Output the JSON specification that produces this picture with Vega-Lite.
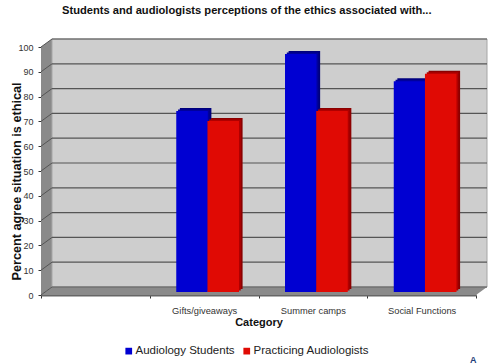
{
  "$schema": "https://vega.github.io/schema/vega-lite/v6.json",
  "width": 435,
  "height": 248,
  "padding": {"left": 41, "top": 47, "right": 18, "bottom": 69},
  "autosize": "none",
  "background": "white",
  "config": {"axisY": {"tickCount": 11, "labelOverlap": false}},
  "title": {"text": "Students and audiologists perceptions of the ethics associated with...", "font": "Liberation Sans", "fontSize": 11.15, "fontWeight": "bold", "color": "#111", "anchor": "start", "offset": 22, "dx": 52},
  "datasets": {
    "scores": [
      {"category": "Gifts/giveaways", "group": "Audiology Students", "percent": 73},
      {"category": "Gifts/giveaways", "group": "Practicing Audiologists", "percent": 69},
      {"category": "Summer camps", "group": "Audiology Students", "percent": 96},
      {"category": "Summer camps", "group": "Practicing Audiologists", "percent": 73},
      {"category": "Social Functions", "group": "Audiology Students", "percent": 85},
      {"category": "Social Functions", "group": "Practicing Audiologists", "percent": 88}
    ],
    "ticks": [{"v": 0}, {"v": 10}, {"v": 20}, {"v": 30}, {"v": 40}, {"v": 50}, {"v": 60}, {"v": 70}, {"v": 80}, {"v": 90}, {"v": 100}],
    "sideWall": [{"u": 0, "lo": 0, "hi": 100}, {"u": 0.101, "lo": 3.2, "hi": 103.2}],
    "floor": [{"u": 0, "lo": 0, "hi": 0}, {"u": 0.101, "lo": 0, "hi": 3.2}, {"u": 4, "lo": 0, "hi": 3.2}, {"u": 4.101, "lo": 3.2, "hi": 3.2}]
  },
  "resolve": {"scale": {"x": "independent"}},
  "layer": [
    {
      "data": {"name": "sideWall"},
      "mark": {"type": "area", "color": "#8a8a8a"},
      "encoding": {
        "x": {"field": "u", "type": "quantitative", "scale": {"domain": [0, 4]}, "axis": null},
        "y": {"field": "lo", "type": "quantitative", "scale": {"domain": [0, 100]}, "axis": {"values": [0, 10, 20, 30, 40, 50, 60, 70, 80, 90, 100], "labelOverlap": false, "title": "Percent agree situation is ethical", "titleFont": "Liberation Sans", "titleFontSize": 12.7, "titleFontWeight": "bold", "titleColor": "#111", "titleX": -18, "titleY": 134, "labelFont": "Liberation Sans", "labelFontSize": 9, "labelColor": "#333", "labelPadding": 5, "tickSize": 3, "tickColor": "#333", "domainColor": "#666", "grid": false}},
        "y2": {"field": "hi"}
      }
    },
    {
      "data": {"name": "floor"},
      "mark": {"type": "area", "color": "#8a8a8a"},
      "encoding": {
        "x": {"field": "u", "type": "quantitative", "scale": {"domain": [0, 4]}, "axis": null},
        "y": {"field": "lo", "type": "quantitative"},
        "y2": {"field": "hi"}
      }
    },
    {
      "data": {"values": [{"a": 0, "b": 4, "lo": 0, "hi": 100}]},
      "mark": {"type": "rect", "fill": "#cecece", "stroke": "#a6a6a6", "strokeWidth": 1, "xOffset": 11, "x2Offset": 11, "yOffset": -8, "y2Offset": -8},
      "encoding": {
        "x": {"field": "a", "type": "quantitative", "scale": {"domain": [0, 4]}, "axis": null},
        "x2": {"field": "b"},
        "y": {"field": "lo", "type": "quantitative"},
        "y2": {"field": "hi"}
      }
    },
    {
      "data": {"name": "ticks"},
      "transform": [{"calculate": "0", "as": "a"}, {"calculate": "4", "as": "b"}],
      "mark": {"type": "rule", "color": "#555555", "strokeWidth": 1.2, "xOffset": 11, "x2Offset": 11, "yOffset": -8},
      "encoding": {
        "x": {"field": "a", "type": "quantitative", "scale": {"domain": [0, 4]}, "axis": null},
        "x2": {"field": "b"},
        "y": {"field": "v", "type": "quantitative"}
      }
    },
    {
      "data": {"name": "ticks"},
      "transform": [{"calculate": "0", "as": "a"}],
      "mark": {"type": "rule", "color": "#555555", "strokeWidth": 1, "x2Offset": 11, "y2Offset": -8},
      "encoding": {
        "x": {"field": "a", "type": "quantitative", "scale": {"domain": [0, 4]}, "axis": null},
        "x2": {"field": "a"},
        "y": {"field": "v", "type": "quantitative"},
        "y2": {"field": "v"}
      }
    },
    {
      "data": {"values": [{"u": 3.975, "v": -27.4, "glyph": "A"}]},
      "mark": {"type": "text", "font": "Liberation Sans", "fontSize": 9, "fontWeight": "bold", "color": "#1f3f7a", "baseline": "alphabetic"},
      "encoding": {
        "x": {"field": "u", "type": "quantitative", "scale": {"domain": [0, 4]}, "axis": null},
        "y": {"field": "v", "type": "quantitative"},
        "text": {"field": "glyph"}
      }
    },
    {
      "data": {"name": "scores"},
      "transform": [{"filter": "datum.group === 'Audiology Students'"}],
      "mark": {"type": "bar", "color": "#00007c", "xOffset": -8.5, "yOffset": -6, "y2Offset": -6, "width": {"band": 0.29}},
      "encoding": {
        "x": {"field": "category", "type": "nominal", "scale": {"domain": [" ", "Gifts/giveaways", "Summer camps", "Social Functions"], "paddingInner": 0, "paddingOuter": 0}, "axis": null},
        "y": {"field": "percent", "type": "quantitative"},
        "y2": {"datum": 0}
      }
    },
    {
      "data": {"name": "scores"},
      "transform": [{"filter": "datum.group === 'Audiology Students'"}],
      "mark": {"type": "bar", "color": "#00009c", "xOffset": -10.3, "yOffset": -4.5, "y2Offset": -4.5, "width": {"band": 0.29}},
      "encoding": {
        "x": {"field": "category", "type": "nominal", "scale": {"domain": [" ", "Gifts/giveaways", "Summer camps", "Social Functions"], "paddingInner": 0, "paddingOuter": 0}, "axis": null},
        "y": {"field": "percent", "type": "quantitative"},
        "y2": {"datum": 0}
      }
    },
    {
      "data": {"name": "scores"},
      "transform": [{"filter": "datum.group === 'Audiology Students'"}],
      "mark": {"type": "bar", "xOffset": -12.1, "yOffset": -3, "y2Offset": -3, "width": {"band": 0.29}},
      "encoding": {
        "x": {"field": "category", "type": "nominal", "scale": {"domain": [" ", "Gifts/giveaways", "Summer camps", "Social Functions"], "paddingInner": 0, "paddingOuter": 0}, "axis": null},
        "y": {"field": "percent", "type": "quantitative"},
        "y2": {"datum": 0},
        "color": {"field": "group", "scale": {"domain": ["Audiology Students", "Practicing Audiologists"], "range": ["#0000d2", "#e00a04"]}, "legend": {"title": null, "orient": "none", "legendX": 82, "legendY": 298, "direction": "horizontal", "symbolType": "square", "symbolSize": 45, "labelFont": "Liberation Sans", "labelFontSize": 11.5, "labelColor": "#222", "columnPadding": 6, "labelOffset": 1, "symbolStrokeWidth": 0}}
      }
    },
    {
      "data": {"name": "scores"},
      "transform": [{"filter": "datum.group === 'Practicing Audiologists'"}],
      "mark": {"type": "bar", "color": "#8c0000", "xOffset": 22.7, "yOffset": -6, "y2Offset": -6, "width": {"band": 0.29}},
      "encoding": {
        "x": {"field": "category", "type": "nominal", "scale": {"domain": [" ", "Gifts/giveaways", "Summer camps", "Social Functions"], "paddingInner": 0, "paddingOuter": 0}, "axis": null},
        "y": {"field": "percent", "type": "quantitative"},
        "y2": {"datum": 0}
      }
    },
    {
      "data": {"name": "scores"},
      "transform": [{"filter": "datum.group === 'Practicing Audiologists'"}],
      "mark": {"type": "bar", "color": "#b00000", "xOffset": 20.9, "yOffset": -4.5, "y2Offset": -4.5, "width": {"band": 0.29}},
      "encoding": {
        "x": {"field": "category", "type": "nominal", "scale": {"domain": [" ", "Gifts/giveaways", "Summer camps", "Social Functions"], "paddingInner": 0, "paddingOuter": 0}, "axis": null},
        "y": {"field": "percent", "type": "quantitative"},
        "y2": {"datum": 0}
      }
    },
    {
      "data": {"name": "scores"},
      "transform": [{"filter": "datum.group === 'Practicing Audiologists'"}],
      "mark": {"type": "bar", "xOffset": 19.1, "yOffset": -3, "y2Offset": -3, "width": {"band": 0.29}},
      "encoding": {
        "x": {"field": "category", "type": "nominal", "scale": {"domain": [" ", "Gifts/giveaways", "Summer camps", "Social Functions"], "paddingInner": 0, "paddingOuter": 0}, "axis": {"title": "Category", "titleFont": "Liberation Sans", "titleFontSize": 11, "titleFontWeight": "bold", "titleColor": "#111", "titlePadding": 1, "labelFont": "Liberation Sans", "labelFontSize": 9.3, "labelColor": "#333", "labelAngle": 0, "labelPadding": 8, "tickBand": "extent", "tickExtra": true, "tickSize": 3, "tickColor": "#333", "domainColor": "#666", "domainWidth": 2, "grid": false}},
        "y": {"field": "percent", "type": "quantitative"},
        "y2": {"datum": 0},
        "color": {"field": "group", "legend": {"title": null, "orient": "none", "legendX": 82, "legendY": 298, "direction": "horizontal", "symbolType": "square", "symbolSize": 45, "labelFont": "Liberation Sans", "labelFontSize": 11.5, "labelColor": "#222", "columnPadding": 6, "labelOffset": 1, "symbolStrokeWidth": 0}}
      }
    }
  ]
}
